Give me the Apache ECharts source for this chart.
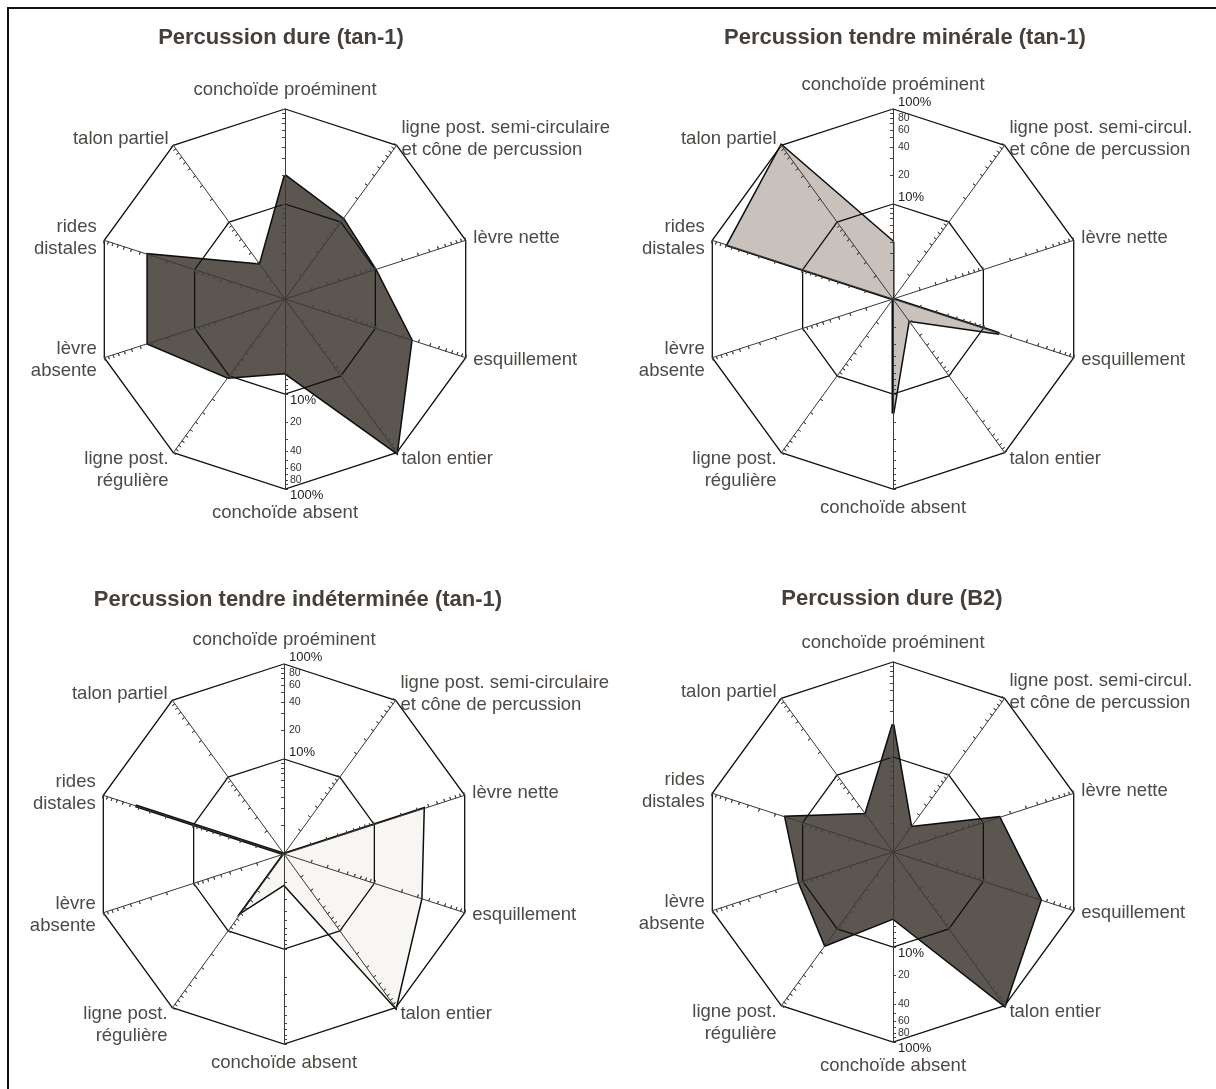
<!DOCTYPE html>
<html><head><meta charset="utf-8">
<script src="https://cdn.jsdelivr.net/npm/echarts@6/dist/echarts.min.js"></script>
<style>html,body{margin:0;padding:0;background:#fff}#c{width:1216px;height:1089px}</style>
</head><body><div id="c"></div>
<script>
// ---------- DATA (axes listed clockwise from the top axis) ----------
const axesLong = ['conchoïde proéminent', 'ligne post. semi-circulaire\net cône de percussion', 'lèvre nette', 'esquillement', 'talon entier', 'conchoïde absent', 'ligne post.\nrégulière', 'lèvre\nabsente', 'rides\ndistales', 'talon partiel'];
const axesShort = ['conchoïde proéminent', 'ligne post. semi-circul.\net cône de percussion', 'lèvre nette', 'esquillement', 'talon entier', 'conchoïde absent', 'ligne post.\nrégulière', 'lèvre\nabsente', 'rides\ndistales', 'talon partiel'];
const titles = ['Percussion dure (tan-1)', 'Percussion tendre minérale (tan-1)', 'Percussion tendre indéterminée (tan-1)', 'Percussion dure (B2)'];
// values in % (log scale 1% at centre .. 100% at the rim)
const valuesDureTan1 = [20, 11, 10, 25, 100, 6, 10.5, 33, 33, 2.8];
const valuesTendreMinerale = [4, 1, 1, 15, 1.9, 16, 1, 1, 68, 100];
const valuesTendreIndet = [1, 1, 35, 33, 100, 2.1, 5.6, 1, 44, 1];
const valuesDureB2 = [22, 2.1, 15, 43, 100, 5, 16.4, 10.9, 15.5, 3.1];
// log-scale ticks and labels
const tickValues = [2, 3, 4, 5, 6, 7, 8, 9, 10, 20, 30, 40, 50, 60, 70, 80, 90, 100];
const numberLabels = [20, 40, 60, 80];
const percentLabels = [10, 100];

// ---------- LAYOUT ----------
const FONT = '"Liberation Sans", Arial, Helvetica, sans-serif';
const R = 190;
const L = v => Math.log10(Math.max(v, 1));
const order = [0, 9, 8, 7, 6, 5, 4, 3, 2, 1]; // ECharts radar runs counter-clockwise
const panels = [
  { title: titles[0], names: axesLong, values: valuesDureTan1, center: [285, 299], fill: '#5c5651', labelAxis: 5, titlePos: [281, 38] },
  { title: titles[1], names: axesShort, values: valuesTendreMinerale, center: [893, 299], fill: '#c9c1bc', labelAxis: 0, titlePos: [905, 38] },
  { title: titles[2], names: axesLong, values: valuesTendreIndet, center: [284, 854], fill: '#f8f6f3', labelAxis: 0, titlePos: [298, 600] },
  { title: titles[3], names: axesShort, values: valuesDureB2, center: [893, 852], fill: '#5c5651', labelAxis: 5, titlePos: [892, 599] }
];

const radars = [], series = [];
const graphics = [{ type: 'rect', z: 10, shape: { x: 8, y: 8, width: 1230, height: 1110 }, style: { fill: 'none', stroke: '#111', lineWidth: 2 } }];

panels.forEach((p, k) => {
  const names = p.names;
  const top = p.labelAxis === 0;
  const ind = extra => order.map(i => Object.assign({ name: names[i], min: 0, max: 2 }, extra(i)));
  const off = { show: false };
  // grid radar: rims at 10% and 100%, spokes, axis names, % labels
  radars.push({
    center: p.center, radius: R, startAngle: 90, shape: 'polygon', splitNumber: 2, z: 3,
    indicator: ind(i => i === p.labelAxis ? { axisLabel: { show: true, margin: top ? -5 : 5, align: 'left', verticalAlign: top ? 'bottom' : 'top' } } : {}),
    axisName: {
      color: '#4e4945', fontSize: 18.5, fontFamily: FONT, lineHeight: 22,
      formatter: (v) => v === names[6] ? '\n' + v : v
    },
    nameGap: 8,
    axisLine: { show: true, lineStyle: { color: '#3a3735', width: 1 } },
    splitLine: { show: true, lineStyle: { color: '#111', width: 1.3 } },
    splitArea: off,
    axisTick: off,
    axisLabel: { show: false, customValues: percentLabels.map(L), formatter: v => Math.round(Math.pow(10, v)) + '%', fontSize: 13, color: '#222', fontFamily: FONT }
  });
  // tick radar (one side) + number labels
  radars.push({
    center: p.center, radius: R, startAngle: 90, shape: 'polygon', splitNumber: 2, z: 3,
    indicator: ind(i => i === p.labelAxis ? { axisLabel: { show: true, margin: top ? -5 : 5, align: 'left' } } : {}),
    axisName: off, axisLine: off, splitLine: off, splitArea: off,
    axisTick: { show: true, length: 3, customValues: tickValues.map(L), lineStyle: { color: '#444', width: 1 } },
    axisLabel: { show: false, customValues: numberLabels.map(L), formatter: v => String(Math.round(Math.pow(10, v))), fontSize: 10.5, color: '#333', fontFamily: FONT }
  });
  // tick radar (other side)
  radars.push({
    center: p.center, radius: R, startAngle: 90, shape: 'polygon', splitNumber: 2, z: 3,
    indicator: ind(() => ({})),
    axisName: off, axisLine: off, splitLine: off, splitArea: off, axisLabel: off,
    axisTick: { show: true, inside: true, length: 3, customValues: tickValues.map(L), lineStyle: { color: '#444', width: 1 } }
  });
  series.push({
    type: 'radar', radarIndex: k * 3, symbol: 'none', z: 2, silent: true,
    lineStyle: { color: '#0d0d0d', width: 3, join: 'miter' },
    itemStyle: { color: '#0d0d0d' },
    areaStyle: { color: p.fill, opacity: 1 },
    data: [{ value: order.map(i => L(p.values[i])), name: p.title,
             lineStyle: { color: '#0d0d0d', width: 3 } }]
  });
  graphics.push({ type: 'text', x: p.titlePos[0], y: p.titlePos[1], z: 10,
    style: { text: p.title, fontSize: 22, fontWeight: 'bold', fontFamily: FONT, fill: '#45403c', align: 'center', verticalAlign: 'middle' } });
});

const chart = echarts.init(document.getElementById('c'));
chart.setOption({ animation: false, backgroundColor: '#fff', radar: radars, series: series, graphic: graphics });
</script></body></html>
